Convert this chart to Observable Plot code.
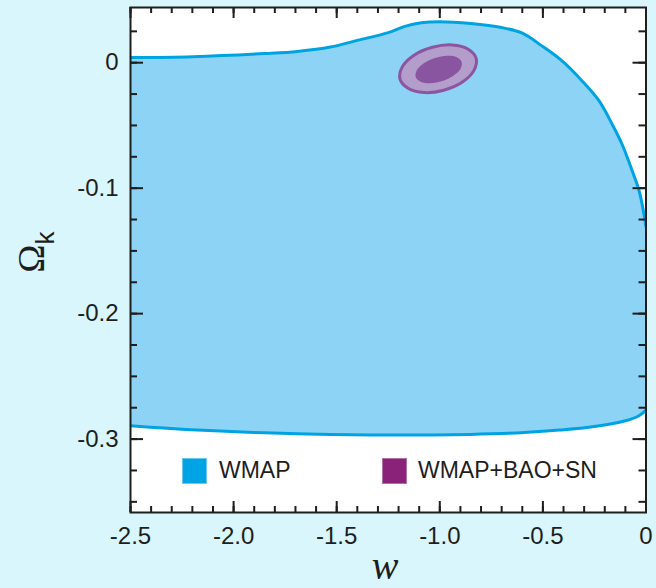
<!DOCTYPE html>
<html>
<head>
<meta charset="utf-8">
<script src="https://cdn.jsdelivr.net/npm/d3@7"></script>
<script src="https://cdn.jsdelivr.net/npm/@observablehq/plot@0.6"></script>
<style>
  html, body { margin: 0; padding: 0; background: #d8f6fb; }
  #wrap { position: relative; width: 656px; height: 588px; background: #d8f6fb; overflow: hidden; }
  #wrap svg { position: absolute; left: 0; top: 0; }
  .ov { position: absolute; white-space: nowrap; color: #1e1e1e; }
  .sw { position: absolute; box-sizing: border-box; }
</style>
</head>
<body>
<div id="wrap"></div>
<script>
// WMAP-only contour: upper boundary
const wTop  = [-2.5, -2.2, -1.85, -1.69, -1.53, -1.41, -1.25, -1.17, -1.09, -1.0, -0.85, -0.70, -0.60, -0.505, -0.407, -0.31, -0.229, -0.164, -0.116, -0.067, -0.034, 0];
const okTop = [0.0041, 0.0048, 0.0073, 0.0090, 0.0125, 0.0174, 0.0240, 0.0290, 0.0318, 0.0326, 0.0312, 0.0280, 0.0235, 0.0134, 0.0014, -0.0145, -0.0301, -0.049, -0.065, -0.0862, -0.1018, -0.131];
// WMAP-only contour: lower boundary
const wBot  = [-2.5, -2.34, -2.175, -2.01, -1.85, -1.69, -1.53, -1.235, -0.94, -0.75, -0.59, -0.42, -0.26, -0.10, -0.034, 0];
const okBot = [-0.2894, -0.2912, -0.2928, -0.2939, -0.2950, -0.2958, -0.2964, -0.2968, -0.2966, -0.2958, -0.2947, -0.2928, -0.2902, -0.2854, -0.2814, -0.2769];
// WMAP+BAO+SN contours (95% outer, 68% inner)
const wOuter  = [-0.8235, -0.835, -0.892, -0.981, -1.076, -1.154, -1.193, -1.182, -1.125, -1.036, -0.940, -0.862];
const okOuter = [0.0034, -0.0063, -0.0156, -0.0219, -0.0238, -0.0204, -0.013, -0.0033, 0.006, 0.0123, 0.0142, 0.0108];
const wInner  = [-0.894, -0.899, -0.934, -0.987, -1.046, -1.093, -1.117, -1.111, -1.077, -1.023, -0.965, -0.917];
const okInner = [0.0006, -0.0048, -0.0103, -0.0146, -0.0163, -0.0151, -0.0114, -0.0059, -0.0004, 0.0038, 0.0056, 0.0044];
// axes
const xMajor = [-2.5, -2.0, -1.5, -1.0, -0.5, 0];
const xLabels = ["-2.5", "-2.0", "-1.5", "-1.0", "-0.5", "0"];
const yMajor = [0, -0.1, -0.2, -0.3];
const yLabels = ["0", "-0.1", "-0.2", "-0.3"];
const legendLabels = ["WMAP", "WMAP+BAO+SN"];
const legendColors = ["#00a3e4", "#8b2279"];

const xMinor = d3.range(-25, 1).map(i => i / 10);
const yMinor = d3.range(-14, 2).map(i => i * 0.025);

const pts = (ws, os) => ws.map((w, i) => ({w, ok: os[i]}));
const upperPts = pts(wTop, okTop);
const lowerPts = pts(wBot, okBot);
const regionPts = upperPts.concat(lowerPts.slice().reverse());
const outerPts = pts(wOuter, okOuter);
const innerPts = pts(wInner, okInner);

const W = 656, H = 588, mL = 130, mR = 10.5, mT = 7, mB = 76;
const iW = W - mL - mR, iH = H - mT - mB;
const ink = "#1e1e1e";

const chart = Plot.plot({
  width: W, height: H,
  marginLeft: mL, marginRight: mR, marginTop: mT, marginBottom: mB,
  style: {background: "transparent", fontFamily: "'Liberation Sans', Arial, sans-serif"},
  x: {domain: [-2.5, 0]},
  y: {domain: [-0.3585, 0.044]},
  marks: [
    Plot.frame({fill: "white", stroke: null}),
    Plot.line(regionPts, {x: "w", y: "ok", curve: "catmull-rom", fill: "#8dd3f5", stroke: "none", clip: true}),
    Plot.line(upperPts, {x: "w", y: "ok", curve: "catmull-rom", stroke: "#00a3e2", strokeWidth: 3, clip: true}),
    Plot.line(lowerPts, {x: "w", y: "ok", curve: "catmull-rom", stroke: "#00a3e2", strokeWidth: 3, clip: true}),
    Plot.line(outerPts, {x: "w", y: "ok", curve: "catmull-rom-closed", fill: "#b39dca", stroke: "#8c55a0", strokeWidth: 3}),
    Plot.line(innerPts, {x: "w", y: "ok", curve: "catmull-rom-closed", fill: "#8a55a0", stroke: "none"}),
    // minor ticks (inward)
    Plot.tickX(xMinor, {x: d => d, stroke: ink, strokeWidth: 2, insetTop: iH - 6}),
    Plot.tickX(xMinor, {x: d => d, stroke: ink, strokeWidth: 2, insetBottom: iH - 6}),
    Plot.tickX(xMajor, {x: d => d, stroke: ink, strokeWidth: 2, insetTop: iH - 11}),
    Plot.tickX(xMajor, {x: d => d, stroke: ink, strokeWidth: 2, insetBottom: iH - 11}),
    Plot.tickY(yMinor, {y: d => d, stroke: ink, strokeWidth: 2, insetRight: iW - 7}),
    Plot.tickY(yMinor, {y: d => d, stroke: ink, strokeWidth: 2, insetLeft: iW - 7}),
    Plot.tickY(yMajor, {y: d => d, stroke: ink, strokeWidth: 2, insetRight: iW - 13}),
    Plot.tickY(yMajor, {y: d => d, stroke: ink, strokeWidth: 2, insetLeft: iW - 13}),
    Plot.frame({stroke: ink, strokeWidth: 2}),
    Plot.axisX(xMajor, {tickSize: 0, tickPadding: 14, label: null, fontSize: 24, fill: ink,
      tickFormat: d => xLabels[xMajor.indexOf(d)]}),
    Plot.axisY(yMajor, {tickSize: 0, tickPadding: 12, label: null, fontSize: 24, fill: ink,
      tickFormat: d => yLabels[yMajor.indexOf(d)]})
  ]
});

const wrap = document.getElementById("wrap");
wrap.appendChild(chart);

function add(html) { wrap.insertAdjacentHTML("beforeend", html); }
// legend
add(`<div class="sw" style="left:182px;top:458px;width:25px;height:26px;background:${legendColors[0]};border:1px solid #6cc8ef"></div>`);
add(`<div class="ov" style="left:219px;top:459px;font:23px/23px 'Liberation Sans',Arial,sans-serif">${legendLabels[0]}</div>`);
add(`<div class="sw" style="left:382px;top:458px;width:25px;height:26px;background:${legendColors[1]};border:1px solid #b070a8"></div>`);
add(`<div class="ov" style="left:418px;top:459px;font:23px/23px 'Liberation Sans',Arial,sans-serif">${legendLabels[1]}</div>`);
// axis titles
add(`<div class="ov" style="left:385px;top:546px;transform:translateX(-50%);font:italic 40px/40px 'Liberation Serif','DejaVu Serif',serif">w</div>`);
add(`<div class="ov" style="left:31px;top:252px;transform:translate(-50%,-50%) rotate(-90deg);line-height:1"><span style="font:38px 'Liberation Serif',serif">Ω</span><span style="font:26px 'Liberation Sans',Arial,sans-serif;position:relative;top:10px">k</span></div>`);
</script>
</body>
</html>
